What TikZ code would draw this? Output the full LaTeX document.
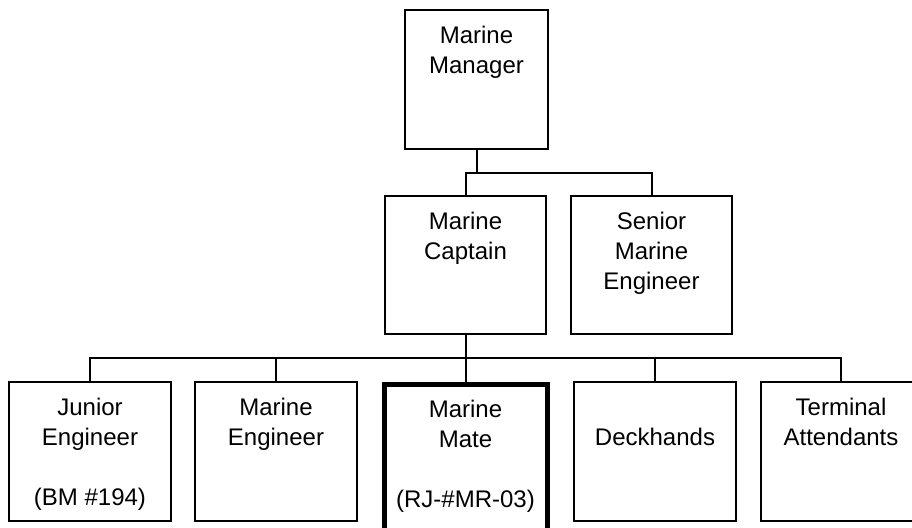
\documentclass[tikz,border=0pt]{standalone}
\usepackage{fontspec}
\setmainfont{Liberation Sans}
\usepackage{tikz}
\newcommand{\rolelines}[1]{\begin{tabular}[t]{@{}c@{}}#1\end{tabular}}

\begin{document}
\begin{tikzpicture}[x=0.5pt, y=-0.5pt, font=\fontsize{12pt}{15pt}\selectfont,
    post/.style={rectangle,draw,line width=1pt,inner sep=0pt,text height=16.5pt,text depth=53pt,minimum width=81pt},
    keypost/.style={post,line width=2.5pt},
    link/.style={draw,line width=1pt}]
    \useasboundingbox (0,0) rectangle (912,527);
    % top and middle levels
    \node[post, minimum width=71.5pt] (mgr) at (476.5,79.5) {\rolelines{Marine\\Manager}};
    \node[post, text depth=52.5pt, minimum width=80.5pt] (cap) at (465.5,265) {\rolelines{Marine\\Captain}};
    \node[post, text depth=52.5pt, minimum width=80.5pt] (sen) at (651.5,265) {\rolelines{Senior\\Marine\\Engineer}};
    % bottom level
    \node[post] (jun) at (90,451.5) {\rolelines{Junior\\Engineer\\\\(BM \#194)}};
    \node[post] (meng) at (276,451.5) {\rolelines{Marine\\Engineer}};
    \node[keypost, text depth=56.5pt, minimum width=81.5pt] (mate) at (465.5,457) {\rolelines{Marine\\Mate\\\\(RJ-\#MR-03)}};
    \node[post] (deck) at (655,451.5) {\rolelines{\\Deckhands}};
    \node[post, minimum width=80pt] (term) at (841,451.5) {\rolelines{Terminal\\Attendants}};

    \coordinate (topbus) at (0,173);
    \coordinate (lowbus) at (0,358);

    \draw[link] (mgr.south) -- (mgr.south |- topbus);
    \draw[link] (cap.north) |- (sen.north |- topbus) -- (sen.north);
    \draw[link] (cap.south) -- (mate.north);
    \draw[link] (jun.north) |- (term.north |- lowbus) -- (term.north);
    \foreach \n in {meng,deck}
        \draw[link] (\n.north) -- (\n.north |- lowbus);
\end{tikzpicture}
\end{document}
